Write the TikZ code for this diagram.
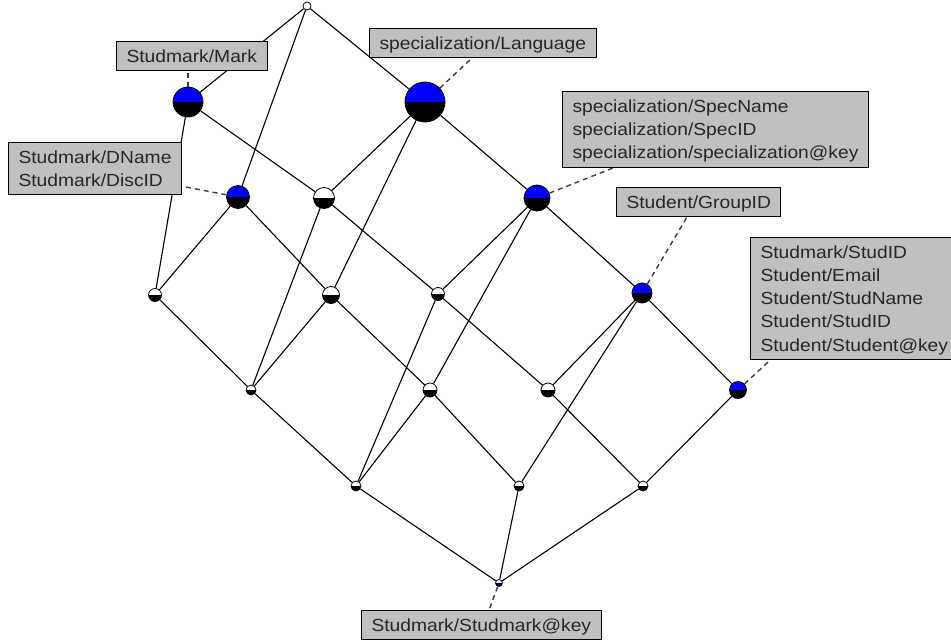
\documentclass[tikz,border=0pt]{standalone}
\usepackage{fontspec}
\setmainfont{Liberation Sans}[FakeStretch=1.1]
\usepackage{tikz}
\definecolor{conceptblue}{RGB}{0,0,255}
\definecolor{boxgray}{RGB}{192,192,192}
\definecolor{linkgray}{RGB}{60,60,60}

\begin{document}
\begin{tikzpicture}[
            x=1pt, y=-1pt,
            lattice node/.style={circle,draw=black,line width=0.8pt,inner sep=0pt,minimum size=#1},
            attr node/.style={lattice node=#1,path picture={
                \fill[conceptblue] (path picture bounding box.north west) rectangle (path picture bounding box.east);
                \fill[black] (path picture bounding box.west) rectangle (path picture bounding box.south east);}},
            plain node/.style={lattice node=#1,fill=white,path picture={
                \fill[black] (path picture bounding box.west) rectangle (path picture bounding box.south east);}},
            lattice line/.style={draw=black,line width=1.1pt},
            label box/.style={rectangle,draw=black,line width=1pt,fill=boxgray,anchor=north west,
                align=left,font=\fontsize{17.5}{23.3}\selectfont,text=black!85,
                inner xsep=10pt,inner ysep=4pt,text height=#1,text depth=4.5pt},
            label box/.default=16.5pt,
            link/.style={draw=linkgray,line width=1.4pt,dash pattern=on 5pt off 4pt}
        ]
            \useasboundingbox (0,0) rectangle (951,643);

            % concepts
            \node[lattice node=8,fill=white] (top) at (307,6) {};
            \node[attr node=30] (mark) at (188,102) {};
            \node[attr node=40] (lang) at (425,102) {};
            \node[attr node=23] (disc) at (238,197) {};
            \node[plain node=21] (c1) at (324,198) {};
            \node[attr node=26] (spec) at (537,198) {};
            \node[attr node=20] (group) at (642,293) {};
            \node[attr node=17] (stud) at (738,390) {};
            \node[plain node=13] (r3a) at (155,295) {};
            \node[plain node=17] (r3b) at (331,295) {};
            \node[plain node=13] (r3c) at (438,294) {};
            \node[plain node=10] (r4a) at (251,390) {};
            \node[plain node=14] (r4b) at (430,390) {};
            \node[plain node=14] (r4c) at (548,390) {};
            \node[plain node=10] (r5a) at (356,486) {};
            \node[plain node=10] (r5b) at (519,486) {};
            \node[plain node=10] (r5c) at (643,486) {};
            \node[plain node=7,draw=conceptblue!50!black] (bottom) at (499,583) {};

            % lattice
            \draw[lattice line] (top) -- (mark) (top) -- (disc) (top) -- (lang);
            \draw[lattice line] (mark) -- (r3a) (mark) -- (c1);
            \draw[lattice line] (lang) -- (c1) (lang) -- (r3b) (lang) -- (spec);
            \draw[lattice line] (disc) -- (r3a) (disc) -- (r3b);
            \draw[lattice line] (c1) -- (r4a) (c1) -- (r3c);
            \draw[lattice line] (spec) -- (r3c) (spec) -- (r4b) (spec) -- (group);
            \draw[lattice line] (group) -- (r4c) (group) -- (r5b) (group) -- (stud);
            \draw[lattice line] (stud) -- (r5c);
            \draw[lattice line] (r3a) -- (r4a);
            \draw[lattice line] (r3b) -- (r4a) (r3b) -- (r4b);
            \draw[lattice line] (r3c) -- (r4c) (r3c) -- (r5a);
            \draw[lattice line] (r4a) -- (r5a);
            \draw[lattice line] (r4b) -- (r5a) (r4b) -- (r5b);
            \draw[lattice line] (r4c) -- (r5c);
            \draw[lattice line] (r5a) -- (bottom) (r5b) -- (bottom) (r5c) -- (bottom);

            % labels
            \node[label box] (markbox) at (116,41) {Studmark/Mark};
            \node[label box] (langbox) at (369,28) {specialization/Language};
            \node[label box=39.8pt] (discbox) at (8,142) {Studmark/DName\\Studmark/DiscID};
            \node[label box=63.1pt] (specbox) at (562,91) {specialization/SpecName\\specialization/SpecID\\specialization/specialization@key};
            \node[label box] (groupbox) at (616,187) {Student/GroupID};
            \node[label box=109.7pt] (studbox) at (750,237) {Studmark/StudID\\Student/Email\\Student/StudName\\Student/StudID\\Student/Student@key};
            \node[label box] (keybox) at (361,610) {Studmark/Studmark@key};

            \draw[link] (mark) -- (markbox.south -| mark);
            \draw[link] (lang) -- ([xshift=103pt]langbox.south west);
            \draw[link] (disc) -- ([yshift=9pt]discbox.south east);
            \draw[link] (spec) -- ([xshift=52pt]specbox.south west);
            \draw[link] (group) -- ([xshift=71pt]groupbox.south west);
            \draw[link] (stud) -- ([xshift=20pt]studbox.south west);
            \draw[link] (bottom) -- ([xshift=128pt]keybox.north west);
        \end{tikzpicture}
\end{document}
